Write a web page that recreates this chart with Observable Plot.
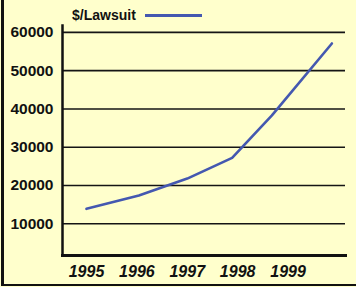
<!DOCTYPE html>
<html>
<head>
<meta charset="utf-8">
<script src="https://cdn.jsdelivr.net/npm/d3@7"></script>
<script src="https://cdn.jsdelivr.net/npm/@observablehq/plot@0.6"></script>
<style>
  html, body { margin: 0; padding: 0; background: #ffffcc; }
  #wrap { position: relative; width: 356px; height: 287px; overflow: hidden; background: #ffffcc; }
  #border { position: absolute; left: 1px; top: -10px; width: 400px; height: 294px; border-left: 3px solid #111; border-bottom: 2.5px solid #111; pointer-events: none; }
  #legend-text { position: absolute; left: 72px; top: 8px; line-height: 14px; font: bold 14px/14px "Liberation Sans Narrow", "Arial Narrow", sans-serif; color: #111; white-space: nowrap; }
  #legend-sw { position: absolute; left: 145px; top: 14px; width: 57px; height: 2.5px; background: #4458b0; }
</style>
</head>
<body>
<div id="wrap">
  <div id="chart"></div>
  <div id="legend-text"></div>
  <div id="legend-sw"></div>
  <div id="border"></div>
</div>
<script>
// Data (x = position along the year axis)
const years = [1995.0, 1996.04, 1997.0, 1997.89, 1998.68, 1999.87];
const values = [13900, 17400, 21800, 27200, 38300, 57100];
const xTicks = [1995, 1996, 1997, 1998, 1999];
const yTicks = [10000, 20000, 30000, 40000, 50000, 60000];
const seriesName = "$/Lawsuit";

document.getElementById("legend-text").textContent = seriesName;

const data = years.map((y, i) => ({year: y, value: values[i], series: seriesName}));

const chart = Plot.plot({
  width: 356,
  height: 287,
  marginLeft: 62,
  marginRight: 11,
  marginTop: 25,
  marginBottom: 32,
  style: {background: "#ffffcc", fontFamily: "'Liberation Sans Narrow', 'Arial Narrow', sans-serif", color: "#111"},
  x: {domain: [1994.524, 2000.14]},
  y: {domain: [1700, 61800]},
  marks: [
    Plot.ruleY(yTicks, {stroke: "#151515", strokeWidth: 1.6}),
    Plot.frame({anchor: "bottom", stroke: "#111", strokeWidth: 3}),
    Plot.frame({anchor: "left", stroke: "#111", strokeWidth: 2.5}),
    Plot.line(data, {x: "year", y: "value", stroke: "#4458b0", strokeWidth: 2.6}),
    Plot.axisY(yTicks, {tickSize: 0, tickPadding: 9, fontSize: 15.5, fontWeight: "bold", label: null, tickFormat: d => String(d)}),
    Plot.axisX(xTicks, {tickSize: 0, tickPadding: 10, fontSize: 16, fontWeight: "bold", fontStyle: "italic", label: null, tickFormat: d => String(d)})
  ]
});
document.getElementById("chart").appendChild(chart);
</script>
</body>
</html>
